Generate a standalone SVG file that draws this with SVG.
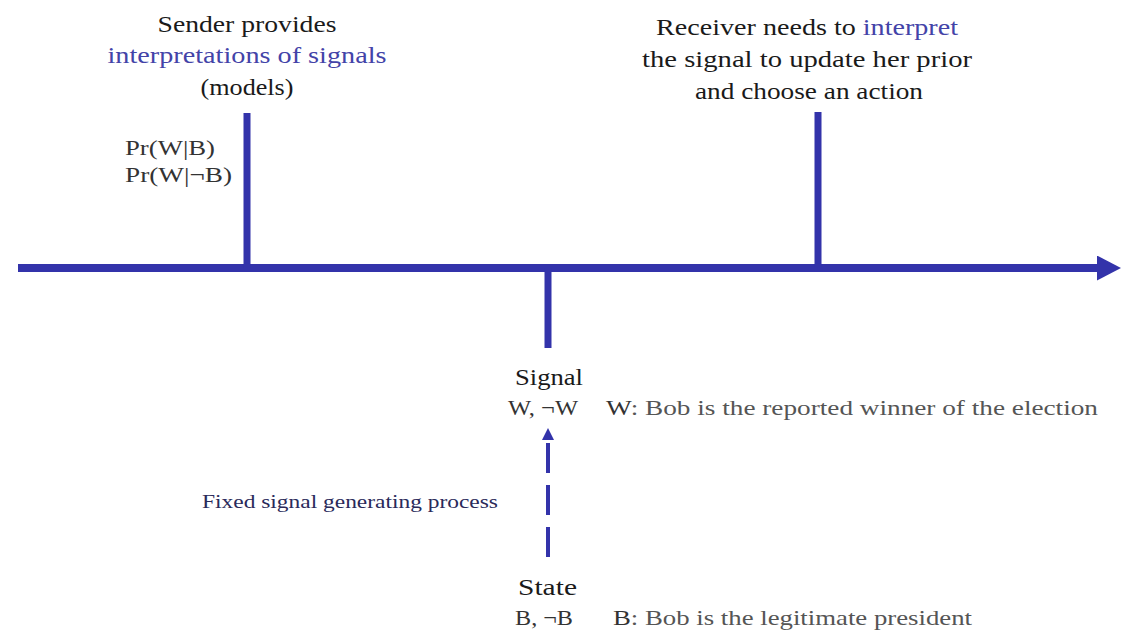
<svg xmlns="http://www.w3.org/2000/svg" width="1133" height="644" viewBox="0 0 1133 644">
<style>
text{font-family:"Liberation Serif","Times New Roman",serif;}
.big{font-size:23px;fill:#1a1a1a;}
.small{font-size:21px;fill:#333333;}
.desc{font-size:21px;fill:#555555;}
.proc{font-size:18px;fill:#2a2a5a;}
.line{stroke:#3333aa;fill:none;}
</style>
<defs>
<marker id="ah" markerWidth="24" markerHeight="26" refX="0" refY="12.5" orient="auto" markerUnits="userSpaceOnUse">
<path d="M0,0 L24,12.5 L0,25 Z" fill="#3333aa"/>
</marker>
<marker id="ah2" markerWidth="12" markerHeight="12" refX="0" refY="6" orient="auto" markerUnits="userSpaceOnUse">
<path d="M0,0 L12,6 L0,12 Z" fill="#3333aa"/>
</marker>
</defs>
<rect width="1133" height="644" fill="#ffffff"/>
<g id="connectors">
<line class="line" x1="18" y1="268" x2="1097" y2="268" stroke-width="8" marker-end="url(#ah)"/>
<line class="line" x1="247" y1="113" x2="247" y2="268" stroke-width="7"/>
<line class="line" x1="818" y1="112" x2="818" y2="268" stroke-width="7"/>
<line class="line" x1="548" y1="268" x2="548" y2="348" stroke-width="7"/>
<line class="line" x1="548" y1="557" x2="548" y2="440" stroke-width="4" stroke-dasharray="30,12" marker-end="url(#ah2)"/>
</g>
<g id="sender">
<text class="big" text-anchor="middle" x="247" y="32" textLength="179" lengthAdjust="spacingAndGlyphs">Sender provides</text>
<text class="big" text-anchor="middle" x="247" y="63" textLength="279" lengthAdjust="spacingAndGlyphs" style="fill:#4343a8">interpretations of signals</text>
<text class="big" text-anchor="middle" x="247" y="95" textLength="93" lengthAdjust="spacingAndGlyphs">(models)</text>
<text class="small" x="125" y="155" textLength="90" lengthAdjust="spacingAndGlyphs">Pr(W|B)</text>
<text class="small" x="125" y="182" textLength="107" lengthAdjust="spacingAndGlyphs">Pr(W|¬B)</text>
</g>
<g id="receiver">
<text class="big" text-anchor="middle" x="807" y="35" textLength="302" lengthAdjust="spacingAndGlyphs">Receiver needs to <tspan style="fill:#4343a8">interpret</tspan></text>
<text class="big" text-anchor="middle" x="807" y="67" textLength="330" lengthAdjust="spacingAndGlyphs">the signal to update her prior</text>
<text class="big" text-anchor="middle" x="809" y="99" textLength="228" lengthAdjust="spacingAndGlyphs">and choose an action</text>
</g>
<g id="signal">
<text class="big" x="515" y="385" textLength="68" lengthAdjust="spacingAndGlyphs">Signal</text>
<text class="small" x="508" y="415" textLength="70" lengthAdjust="spacingAndGlyphs">W, ¬W</text>
<text class="desc" x="606" y="415" textLength="492" lengthAdjust="spacingAndGlyphs"><tspan style="fill:#333333">W</tspan>: Bob is the reported winner of the election</text>
</g>
<g id="process">
<text class="proc" x="202" y="508" textLength="296" lengthAdjust="spacingAndGlyphs">Fixed signal generating process</text>
</g>
<g id="state">
<text class="big" x="518" y="595" textLength="59" lengthAdjust="spacingAndGlyphs">State</text>
<text class="small" x="515" y="625" textLength="58" lengthAdjust="spacingAndGlyphs">B, ¬B</text>
<text class="desc" x="613" y="625" textLength="359" lengthAdjust="spacingAndGlyphs"><tspan style="fill:#333333">B</tspan>: Bob is the legitimate president</text>
</g>
</svg>
